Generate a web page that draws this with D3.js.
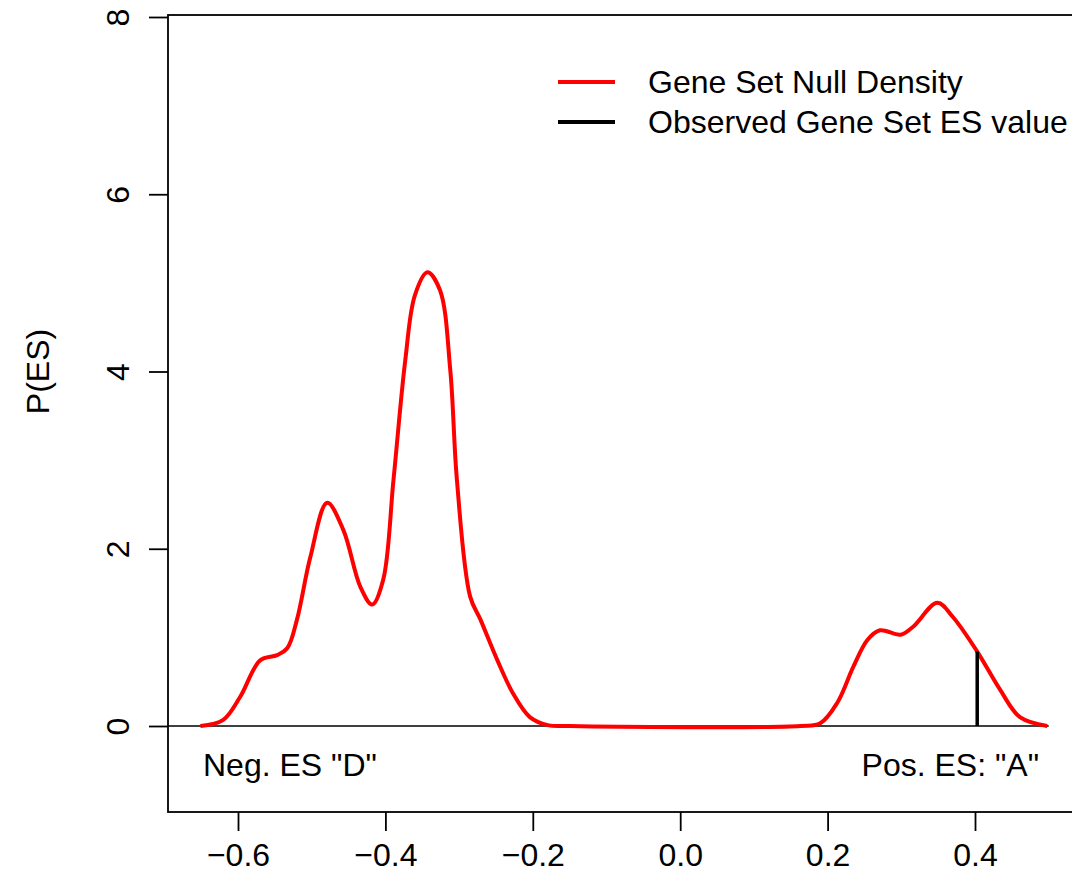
<!DOCTYPE html>
<html>
<head>
<meta charset="utf-8">
<script src="https://cdn.jsdelivr.net/npm/d3@7"></script>
<style>
  body { margin: 0; background: #fff; }
  text { font-family: "Liberation Sans", Arial, sans-serif; fill: #000; }
</style>
</head>
<body>
<div id="chart"></div>
<script>
// Null density of the gene set ES
var densityX = [-0.651, -0.620, -0.597, -0.570, -0.547, -0.533, -0.520, -0.502, -0.479, -0.457,
    -0.434, -0.418, -0.403, -0.389, -0.373, -0.360, -0.343, -0.326, -0.312, -0.303,
    -0.285, -0.271, -0.248, -0.227, -0.204, -0.180, -0.150, 0.163, 0.190, 0.213,
    0.235, 0.254, 0.271, 0.299, 0.316, 0.349, 0.370, 0.403, 0.434, 0.461, 0.498];
var densityY = [0.00, 0.07, 0.33, 0.74, 0.80, 0.88, 1.20, 1.90, 2.52, 2.21,
    1.57, 1.37, 1.65, 2.78, 4.13, 4.86, 5.12, 4.92, 4.02, 2.78,
    1.46, 1.20, 0.74, 0.37, 0.10, 0.01, 0.00, 0.00, 0.03, 0.26,
    0.67, 0.97, 1.08, 1.03, 1.12, 1.39, 1.23, 0.84, 0.41, 0.10, 0.00];
var observedES = 0.403;
var observedDensity = 0.84;
var xTicks = [-0.6, -0.4, -0.2, 0.0, 0.2, 0.4];
var yTicks = [0, 2, 4, 6, 8];
var legendLabels = ["Gene Set Null Density", "Observed Gene Set ES value"];
var legendColors = ["#ff0000", "#000000"];

var svgWidth = 1072, svgHeight = 888;
var box = {left: 168, top: 15, right: 1110, bottom: 812};
var fontSize = 32;

var svg = d3.select("#chart").append("svg")
    .attr("width", svgWidth)
    .attr("height", svgHeight);

var xScale = d3.scaleLinear().domain([-0.6, 0.4]).range([238, 975]);
var yScale = d3.scaleLinear().domain([0, 8]).range([726, 17]);

// plot box
svg.append("rect")
    .attr("x", box.left).attr("y", box.top)
    .attr("width", box.right - box.left).attr("height", box.bottom - box.top)
    .attr("fill", "none").attr("stroke", "#000").attr("stroke-width", 1.8);

// x axis
var xAxis = d3.axisBottom(xScale)
    .tickValues(xTicks)
    .tickSize(19)
    .tickPadding(11)
    .tickFormat(d => d3.format(".1f")(d).replace("-", "\u2212"));
var gx = svg.append("g")
    .attr("transform", `translate(0, ${box.bottom})`)
    .call(xAxis);
gx.select(".domain").remove();
gx.selectAll("line").attr("stroke", "#000").attr("stroke-width", 1.8);
gx.selectAll("text").attr("font-size", fontSize).attr("dy", "0.75em");

// y axis (labels rotated like base R)
var gy = svg.append("g")
    .attr("transform", `translate(${box.left}, 0)`)
    .call(d3.axisLeft(yScale).tickValues(yTicks).tickSize(19).tickFormat(d3.format("d")));
gy.select(".domain").remove();
gy.selectAll("line").attr("stroke", "#000").attr("stroke-width", 1.8);
gy.selectAll("text").remove();
gy.selectAll(".tick").append("text")
    .attr("transform", "translate(-50, 0) rotate(-90)")
    .attr("text-anchor", "middle")
    .attr("dy", "0.35em")
    .attr("font-size", fontSize)
    .text(d => d);

svg.append("text")
    .attr("transform", `translate(38, ${yScale(4)}) rotate(-90)`)
    .attr("text-anchor", "middle")
    .attr("dy", "0.35em")
    .attr("font-size", fontSize)
    .text("P(ES)");

// zero line
svg.append("line")
    .attr("x1", box.left).attr("x2", xScale(0.5))
    .attr("y1", yScale(0)).attr("y2", yScale(0))
    .attr("stroke", "#000").attr("stroke-width", 1.6);

// density curve
var pts = densityX.map((x, i) => [x, densityY[i]]);
var line = d3.line()
    .x(d => xScale(d[0]))
    .y(d => yScale(d[1]))
    .curve(d3.curveCatmullRom.alpha(0.5));
svg.append("path")
    .datum(pts)
    .attr("d", line)
    .attr("fill", "none")
    .attr("stroke", "#ff0000")
    .attr("stroke-width", 4);

// observed ES
svg.append("line")
    .attr("x1", xScale(observedES)).attr("x2", xScale(observedES))
    .attr("y1", yScale(0)).attr("y2", yScale(observedDensity))
    .attr("stroke", "#000").attr("stroke-width", 3.5);

// annotations
svg.append("text")
    .attr("x", 203).attr("y", 765).attr("dy", "0.35em")
    .attr("font-size", fontSize)
    .text("Neg. ES \"D\"");
svg.append("text")
    .attr("x", 1039).attr("y", 765).attr("dy", "0.35em")
    .attr("text-anchor", "end")
    .attr("font-size", fontSize)
    .text("Pos. ES: \"A\"");

// legend
var legend = svg.append("g");
legendLabels.forEach(function(lab, i) {
    var yy = 82 + i * 40;
    legend.append("line")
        .attr("x1", 558).attr("x2", 615)
        .attr("y1", yy).attr("y2", yy)
        .attr("stroke", legendColors[i]).attr("stroke-width", 4);
    legend.append("text")
        .attr("x", 648).attr("y", yy).attr("dy", "0.35em")
        .attr("font-size", fontSize)
        .text(lab);
});
</script>
</body>
</html>
